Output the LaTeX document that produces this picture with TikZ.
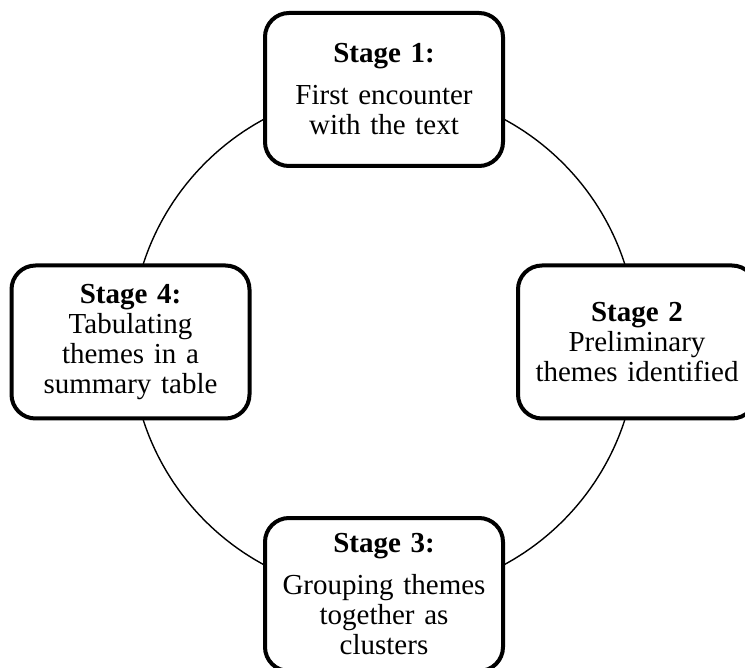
\documentclass[tikz,border=0pt]{standalone}
\usepackage{fontspec}
\setmainfont{Liberation Serif}
\usetikzlibrary{positioning}

\begin{document}
\begin{tikzpicture}[x=1pt, y=-1pt,
    stagebox/.style={rectangle, draw, line width=4pt, rounded corners=24pt, fill=white, minimum width=238pt, minimum height=153pt, text width=228pt, inner sep=5pt, align=center, font=\fontsize{29}{30}\selectfont},
    ring/.style={line width=1.4pt}]

    \useasboundingbox (0,0) rectangle (745,668);
    \clip (0,0) rectangle (745,668);

    % Cycle
    \coordinate (centre) at (384,342);
    \draw[ring] (centre) circle (253);

    % Stages
    \node[stagebox] (stage1) at (384,89.5) {\textbf{Stage 1:}\\[12pt]First encounter\\with the text};
    \node[stagebox] (stage2) at (637,342) {\textbf{Stage 2}\\Preliminary\\themes identified};
    \node[stagebox] (stage3) at (384,594.5) {\textbf{Stage 3:}\\[12pt]Grouping themes\\together as\\clusters};
    \node[stagebox] (stage4) at (130.5,342) {\textbf{Stage 4:}\\Tabulating\\themes in a\\summary table};

\end{tikzpicture}
\end{document}
